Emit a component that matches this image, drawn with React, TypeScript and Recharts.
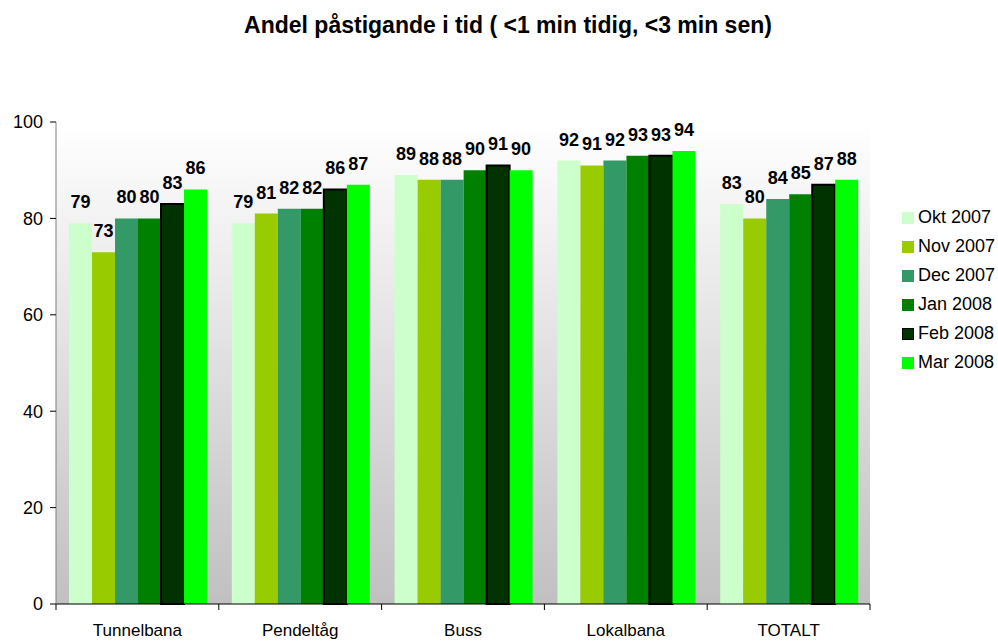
import React from "react";
import { BarChart, Bar, XAxis, YAxis, CartesianGrid, LabelList } from "recharts";

const categories = ["Tunnelbana", "Pendeltåg", "Buss", "Lokalbana", "TOTALT"];
const seriesNames = ["Okt 2007", "Nov 2007", "Dec 2007", "Jan 2008", "Feb 2008", "Mar 2008"];
const seriesColors = ["#CCFFCC", "#99CC00", "#339966", "#008000", "#003300", "#00FF00"];
const okt2007 = [79, 79, 89, 92, 83];
const nov2007 = [73, 81, 88, 91, 80];
const dec2007 = [80, 82, 88, 92, 84];
const jan2008 = [80, 82, 90, 93, 85];
const feb2008 = [83, 86, 91, 93, 87];
const mar2008 = [86, 87, 90, 94, 88];
const seriesValues = [okt2007, nov2007, dec2007, jan2008, feb2008, mar2008];
const yTicks = [0, 20, 40, 60, 80, 100];

const data = categories.map((name, i) => {
  const row: Record<string, string | number> = { name };
  seriesNames.forEach((s, j) => (row[s] = seriesValues[j][i]));
  return row;
});

const font = "'Liberation Sans', Arial, sans-serif";
const X_TICK = 6;
const X_MARGIN = 14;

// category label plus tick marks on the group boundaries (Excel style)
function CatTick(props: any) {
  const { x, y, payload, index, visibleTicksCount } = props;
  const half = payload.offset || 0;
  const axisY = y - X_TICK - X_MARGIN;
  return (
    <g>
      <line x1={x - half} x2={x - half} y1={axisY} y2={axisY + X_TICK} stroke="#000" />
      {index === visibleTicksCount - 1 && (
        <line x1={x + half} x2={x + half} y1={axisY} y2={axisY + X_TICK} stroke="#000" />
      )}
      <text x={x} y={y} dy="0.71em" textAnchor="middle" fill="#000" fontSize={17} fontFamily={font}>
        {payload.value}
      </text>
    </g>
  );
}

export default function App() {
  return (
    <div style={{ position: "relative", width: 998, height: 642, fontFamily: font }}>
      <style>{`body{margin:0}`}</style>
      <div
        style={{
          position: "absolute",
          left: 508,
          top: 12,
          transform: "translateX(-50%)",
          whiteSpace: "nowrap",
          fontWeight: "bold",
          fontSize: 23,
          color: "#000",
        }}
      >
        Andel påstigande i tid ( &lt;1 min tidig, &lt;3 min sen)
      </div>
      <BarChart
        width={998}
        height={642}
        data={data}
        margin={{ top: 122, right: 128, left: 0, bottom: 0 }}
        barCategoryGap="8%"
        barGap={0}
      >
        <defs>
          <linearGradient id="plotBg" x1="0" y1="0" x2="0" y2="1">
            <stop offset="0%" stopColor="#FFFFFF" />
            <stop offset="100%" stopColor="#C0C0C0" />
          </linearGradient>
        </defs>
        <CartesianGrid horizontal={false} vertical={false} fill="url(#plotBg)" />
        <XAxis
          dataKey="name"
          height={38}
          tickSize={X_TICK}
          tickMargin={X_MARGIN}
          tickLine={{ stroke: "none" }}
          axisLine={{ stroke: "#000" }}
          tick={<CatTick />}
          interval={0}
        />
        <YAxis
          domain={[0, 100]}
          ticks={yTicks}
          width={56}
          tickSize={6}
          tickMargin={7}
          axisLine={{ stroke: "#808080" }}
          tickLine={{ stroke: "#000" }}
          tick={{ fill: "#000", fontSize: 18, fontFamily: font }}
        />
        {seriesNames.map((s, j) => (
          <Bar
            key={s}
            dataKey={s}
            fill={seriesColors[j]}
            stroke={s === "Feb 2008" ? "#000" : "none"}
            strokeWidth={s === "Feb 2008" ? 2 : 0}
            isAnimationActive={false}
          >
            <LabelList
              dataKey={s}
              position="top"
              offset={15}
              style={{ fill: "#000", fontSize: 18, fontWeight: "bold", fontFamily: font }}
            />
          </Bar>
        ))}
      </BarChart>
      <div style={{ position: "absolute", left: 902, top: 203 }}>
        {seriesNames.map((s, j) => (
          <div key={s} style={{ display: "flex", alignItems: "center", height: 29, fontSize: 18 }}>
            <span
              style={{
                display: "inline-block",
                width: s === "Feb 2008" ? 10 : 12,
                height: s === "Feb 2008" ? 10 : 12,
                background: seriesColors[j],
                border: s === "Feb 2008" ? "1px solid #000" : "none",
                marginRight: 4,
              }}
            />
            <span>{s}</span>
          </div>
        ))}
      </div>
    </div>
  );
}
